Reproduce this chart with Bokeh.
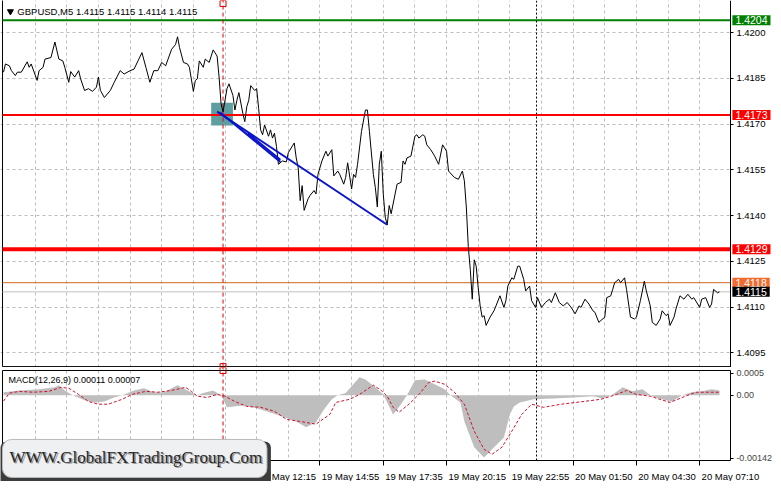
from bokeh.plotting import figure
from bokeh.models import Range1d, Label, FixedTicker, Grid, PrintfTickFormatter, LinearAxis
from bokeh.layouts import column
from bokeh.embed import file_html
from bokeh.resources import INLINE
from bokeh.core.properties import value

# ---------------- data ----------------
title_text = "GBPUSD,M5  1.4115 1.4115 1.4114 1.4115"
macd_text = "MACD(12,26,9) 0.00011 0.00007"

price_bar = [0, 1, 3, 4, 6, 7, 9, 12, 13, 14, 17, 18, 20, 21, 24, 26, 28, 30, 31, 33, 34, 36, 38, 39,
             41, 43, 45, 47, 48, 49, 51, 54, 56, 59, 61, 64, 66, 68, 70, 72, 74, 76, 78, 80, 82, 85,
             87, 88, 89, 91, 93, 94, 96, 97, 98, 99, 101, 102, 104, 106, 108, 109, 110, 111, 113, 114,
             116, 117, 118, 119, 121, 122, 123, 124, 125, 127, 128, 129, 130, 131, 132, 134, 135, 136,
             137, 138, 139, 141, 143, 144, 147, 148, 149, 150, 151, 152, 154, 155, 157, 158, 159, 161,
             163, 164, 166, 167, 169, 170, 172, 173, 174, 176, 177, 178, 179, 181, 183, 184, 185, 187,
             188, 189, 190, 191, 192, 193, 194, 195, 196, 198, 199, 201, 202, 203, 204, 206, 208, 209,
             210, 212, 213, 214, 216, 218, 220, 222, 224, 225, 228, 230, 232, 233, 234, 235, 236, 237,
             238, 239, 240, 241, 242, 243, 244, 246, 248, 249, 251, 253, 254, 255, 257, 258, 260, 261,
             263, 264, 266, 267, 268, 269, 270, 272, 274, 276, 277, 279, 281, 283, 285, 287, 289, 291,
             292, 294, 296, 298, 299, 301, 302, 304, 305, 307, 308, 309, 311, 312, 314, 315, 317, 319,
             320, 322, 324, 325, 327, 328, 330, 332, 333, 335, 336, 337, 339, 340, 342, 344, 346, 348,
             349, 352, 353, 355, 357, 358, 359, 361, 362]
price_val = [1.41870, 1.41897, 1.41891, 1.41875, 1.41859, 1.41870, 1.41870, 1.41904, 1.41886, 1.41897,
             1.41843, 1.41875, 1.41886, 1.41913, 1.41918, 1.41969, 1.41913, 1.41907, 1.41886, 1.41837,
             1.41872, 1.41854, 1.41875, 1.41848, 1.41810, 1.41816, 1.41807, 1.41821, 1.41854, 1.41810,
             1.41787, 1.41810, 1.41837, 1.41875, 1.41864, 1.41875, 1.41880, 1.41907, 1.41934, 1.41886,
             1.41837, 1.41875, 1.41875, 1.41902, 1.41891, 1.41945, 1.41961, 1.41986, 1.41951, 1.41902,
             1.41897, 1.41886, 1.41807, 1.41843, 1.41848, 1.41907, 1.41886, 1.41913, 1.41902, 1.41943,
             1.41923, 1.41854, 1.41767, 1.41740, 1.41816, 1.41832, 1.41794, 1.41746, 1.41778, 1.41803,
             1.41735, 1.41708, 1.41757, 1.41778, 1.41826, 1.41810, 1.41816, 1.41751, 1.41681, 1.41665,
             1.41697, 1.41660, 1.41681, 1.41654, 1.41670, 1.41627, 1.41568, 1.41579, 1.41576, 1.41606,
             1.41638, 1.41589, 1.41557, 1.41449, 1.41498, 1.41417, 1.41455, 1.41466, 1.41482, 1.41471,
             1.41535, 1.41579, 1.41611, 1.41595, 1.41616, 1.41530, 1.41546, 1.41535, 1.41503, 1.41525,
             1.41573, 1.41487, 1.41535, 1.41525, 1.41568, 1.41676, 1.41746, 1.41746, 1.41676, 1.41535,
             1.41492, 1.41428, 1.41568, 1.41611, 1.41471, 1.41395, 1.41369, 1.41433, 1.41406, 1.41471,
             1.41503, 1.41509, 1.41579, 1.41568, 1.41589, 1.41595, 1.41660, 1.41665, 1.41654, 1.41665,
             1.41660, 1.41632, 1.41616, 1.41595, 1.41568, 1.41632, 1.41611, 1.41546, 1.41525, 1.41519,
             1.41546, 1.41514, 1.41428, 1.41298, 1.41223, 1.41126, 1.41255, 1.41234, 1.41164, 1.41104,
             1.41067, 1.41072, 1.41040, 1.41067, 1.41088, 1.41104, 1.41137, 1.41099, 1.41121, 1.41169,
             1.41196, 1.41191, 1.41234, 1.41234, 1.41191, 1.41153, 1.41169, 1.41121, 1.41110, 1.41099,
             1.41131, 1.41099, 1.41115, 1.41126, 1.41115, 1.41147, 1.41115, 1.41104, 1.41115, 1.41099,
             1.41078, 1.41104, 1.41099, 1.41126, 1.41110, 1.41088, 1.41083, 1.41050, 1.41056, 1.41067,
             1.41131, 1.41137, 1.41158, 1.41180, 1.41191, 1.41180, 1.41196, 1.41158, 1.41067, 1.41061,
             1.41067, 1.41121, 1.41185, 1.41153, 1.41104, 1.41050, 1.41040, 1.41061, 1.41088, 1.41072,
             1.41078, 1.41040, 1.41067, 1.41094, 1.41137, 1.41126, 1.41142, 1.41126, 1.41131, 1.41099,
             1.41126, 1.41131, 1.41099, 1.41110, 1.41158, 1.41147, 1.41150]

macd_bar = [0, 8, 18, 26, 28, 31, 35, 41, 46, 51, 56, 60, 66, 71, 76, 81, 88, 93, 98, 101, 106, 110,
            113, 121, 128, 138, 148, 153, 158, 162, 166, 169, 173, 180, 183, 188, 192, 197, 201, 204,
            208, 213, 218, 223, 226, 231, 233, 238, 243, 248, 253, 256, 258, 261, 268, 278, 288, 298,
            303, 308, 313, 318, 323, 328, 333, 338, 343, 348, 353, 358, 362]
macd_val = [0.00007, 0.00011, 0.00014, 0.00018, 0.00023, 0.00011, 0.0, -0.00011, -0.00016, -0.00014,
            -0.00005, 0.0, 0.00011, 0.00016, 0.00007, 0.00007, 0.00023, 0.00011, 0.0, 0.00005, 0.00011,
            0.0, -0.00027, -0.00023, -0.00029, -0.00043, -0.00059, -0.00072, -0.00061, -0.00032,
            -0.00009, 0.0, 0.00005, 0.00041, 0.00036, 0.00018, 0.00002, -0.00043, -0.00020, 0.0,
            0.00034, 0.00036, 0.00025, 0.00014, 0.0, -0.00016, -0.00059, -0.00117, -0.00140, -0.00117,
            -0.00095, -0.00043, -0.00025, -0.00016, -0.00009, -0.00007, -0.00005, -0.00002, -0.00007,
            0.00002, 0.00018, 0.00009, 0.00014, -0.00002, -0.00009, -0.00014, 0.0, 0.00007, 0.00009,
            0.00014, 0.00011]

signal_bar = [0, 3, 8, 15, 23, 29, 33, 38, 43, 48, 53, 60, 65, 72, 78, 85, 92, 95, 98, 103, 108, 112,
              117, 123, 130, 137, 143, 150, 158, 165, 168, 175, 180, 187, 191, 194, 197, 200, 205, 210,
              215, 218, 223, 228, 233, 238, 243, 247, 252, 257, 262, 267, 273, 282, 293, 302, 310, 315,
              320, 327, 337, 343, 350, 357, 362]
signal_val = [-0.00013, 0.00005, 0.00009, 0.00007, 0.00009, 0.00018, 0.00016, 0.00002, -0.00014,
              -0.00020, -0.00020, -0.00009, 0.00002, 0.00009, 0.00007, 0.00011, 0.00018, 0.00009,
              -0.00002, -0.00005, 0.00002, -0.00002, -0.00014, -0.00025, -0.00027, -0.00036, -0.00054,
              -0.00059, -0.00065, -0.00043, -0.00016, -0.00009, 0.00002, 0.00023, 0.00011, -0.00002,
              -0.00027, -0.00038, -0.00020, 0.00002, 0.00029, 0.00032, 0.00025, 0.00007, -0.00020,
              -0.00081, -0.00122, -0.00133, -0.00117, -0.00081, -0.00043, -0.00020, -0.00027, -0.00020,
              -0.00014, -0.00009, 0.00002, 0.00011, 0.00002, -0.00002, -0.00016, -0.00005, 0.00007,
              0.00007, 0.00007]

level_values = [1.4204, 1.4173, 1.4129, 1.4118, 1.4115]
level_labels = ["1.4204", "1.4173", "1.4129", "1.4118", "1.4115"]

price_ticks = [1.4095, 1.4110, 1.4125, 1.4140, 1.4155, 1.4170, 1.4185, 1.4200]
macd_ticks = [0.0005, 0.0, -0.00142]
macd_tick_labels = ["0.0005", "0.00", "-0.00142"]

time_tick_bars = [128, 160, 192, 224, 256, 288, 320, 352]
time_tick_labels = ["19 May 12:15", "19 May 14:55", "19 May 17:35", "19 May 20:15",
                    "19 May 22:55", "20 May 01:50", "20 May 04:30", "20 May 07:10"]
grid_bars = list(range(16, 368, 16))

trend_start_bar = [108, 109.5, 123.5]
trend_start_price = [1.41741, 1.41738, 1.41670]
trend_end_bar = [194, 140, 140]
trend_end_price = [1.41370, 1.41576, 1.41583]

zone_bars = [105, 116]
zone_prices = [1.41695, 1.41770]

event_bar = 111
session_bar = 269.5
watermark_text = "WWW.GlobalFXTradingGroup.Com"

# ---------------- geometry / styles ----------------
FONT = "Liberation Sans"
GRID = "#BDBDBD"
X_LEFT, X_AXIS = -0.5, 367.5          # panel left edge / price-axis position (bar units)
P_TOP, P_BOTTOM = 1.42095, 1.40905    # main panel edges
M_TOP, M_BOTTOM = 0.00056, -0.00147   # MACD panel edges
level_line_colors = ["#008000", "#FF0000", "#FF0000", "#D2691E", "#C0C0C0"]
level_line_widths = [2, 2, 4, 1, 1]
level_box_colors = ["#008000", "#FF0000", "#FF0000", "#F26A2E", "#000000"]

xr = Range1d(-1.511, 389.3)

# ---------------- main price panel ----------------
p = figure(width=773, height=367, x_range=xr, y_range=Range1d(1.40902, 1.42105),
           output_backend="svg", toolbar_location=None, x_axis_location=None,
           y_axis_location=None, min_border=0)
p.background_fill_color = "white"
p.border_fill_color = "white"
p.outline_line_color = None
p.grid.visible = False

p.add_layout(Grid(dimension=0, ticker=FixedTicker(ticks=grid_bars), grid_line_color=GRID,
                  grid_line_dash="3 3"))
p.add_layout(Grid(dimension=1, ticker=FixedTicker(ticks=price_ticks), grid_line_color=GRID,
                  grid_line_dash="3 3"))
# blank strip right of the price axis (hides grid lines there)
p.quad(left=[X_AXIS], right=[400], bottom=[1.40], top=[1.43], fill_color="white", line_color=None)

ax = LinearAxis(fixed_location=X_AXIS, ticker=FixedTicker(ticks=price_ticks),
                formatter=PrintfTickFormatter(format="%.4f"))
ax.axis_line_color = "black"
ax.major_tick_line_color = "black"
ax.major_tick_out = 3
ax.major_tick_in = 0
ax.minor_tick_line_color = None
ax.major_label_standoff = 3
ax.major_label_text_font = FONT
ax.major_label_text_font_size = "9.5px"
ax.major_label_text_color = "black"
p.add_layout(ax, "right")

# panel borders
p.segment(x0=[X_LEFT, X_LEFT], y0=[P_BOTTOM, P_BOTTOM], x1=[X_LEFT, X_AXIS], y1=[1.43, P_BOTTOM],
          line_color="black", line_width=1)

# zone rectangle
p.quad(left=[zone_bars[0]], right=[zone_bars[1]], bottom=[zone_prices[0]], top=[zone_prices[1]],
       fill_color="#5F9EA0", line_color=None)

# horizontal levels
p.segment(x0=[X_LEFT] * len(level_values), y0=level_values, x1=[X_AXIS] * len(level_values),
          y1=level_values, line_color=level_line_colors, line_width=level_line_widths)

# vertical markers
p.segment(x0=[event_bar], y0=[P_BOTTOM], x1=[event_bar], y1=[1.43], line_color="#E00000",
          line_dash="4 3", line_width=1)
p.scatter([event_bar, event_bar], [P_TOP, P_BOTTOM], marker="square", size=6,
          fill_color=None, line_color="#E00000", line_width=1)
p.segment(x0=[session_bar], y0=[P_BOTTOM], x1=[session_bar], y1=[1.43], line_color="black",
          line_dash="2 2", line_width=1)

# price line
p.line(price_bar, price_val, line_color="black", line_width=1)

# trend lines
p.segment(x0=trend_start_bar, y0=trend_start_price, x1=trend_end_bar, y1=trend_end_price,
          line_color="#0A14C8", line_width=2)

# title
p.scatter([3.5], [1.42069], marker="inverted_triangle", size=6, fill_color="black", line_color="black")
p.add_layout(Label(x=7.0, y=1.42069, text=title_text, text_font=FONT, text_font_size="9.5px",
                   text_color="black", text_baseline="middle", text_align="left"))

# level boxes on price axis
for v, t, bc in zip(level_values, level_labels, level_box_colors):
    p.add_layout(Label(x=X_AXIS, y=v, x_offset=2, text=t, text_font=FONT, text_font_size="10.5px",
                       text_color="white", text_baseline="middle", text_align="left",
                       background_fill_color=bc, padding=dict(left=3, right=3, top=1, bottom=1)))

# ---------------- MACD panel ----------------
m = figure(width=773, height=114, x_range=xr, y_range=Range1d(-0.001944, 0.000628),
           output_backend="svg", toolbar_location=None, x_axis_location=None,
           y_axis_location=None, min_border=0)
m.background_fill_color = "white"
m.border_fill_color = "white"
m.outline_line_color = None
m.grid.visible = False
m.add_layout(Grid(dimension=0, ticker=FixedTicker(ticks=grid_bars), grid_line_color=GRID,
                  grid_line_dash="3 3"))
# blank areas outside the MACD panel (hide grid lines)
m.quad(left=[X_AXIS, -10], right=[400, 400], bottom=[-0.01, -0.01], top=[0.01, M_BOTTOM],
       fill_color="white", line_color=None)
m.quad(left=[-10], right=[400], bottom=[M_TOP], top=[0.01], fill_color="white", line_color=None)

may = LinearAxis(fixed_location=X_AXIS, ticker=FixedTicker(ticks=macd_ticks), bounds=(M_BOTTOM, M_TOP))
may.major_label_overrides = {v: s for v, s in zip(macd_ticks, macd_tick_labels)}
may.axis_line_color = "black"
may.major_tick_out = 3
may.major_tick_in = 0
may.minor_tick_line_color = None
may.major_label_standoff = 3
may.major_label_text_font = FONT
may.major_label_text_font_size = "9px"
m.add_layout(may, "right")

label_centers = [b + 15.5 for b in time_tick_bars]
max_ = LinearAxis(fixed_location=M_BOTTOM, bounds=(X_LEFT, X_AXIS),
                  ticker=FixedTicker(ticks=label_centers, minor_ticks=time_tick_bars))
max_.major_label_overrides = {c: s for c, s in zip(label_centers, time_tick_labels)}
max_.axis_line_color = "black"
max_.major_tick_line_color = None
max_.major_tick_out = 0
max_.major_tick_in = 0
max_.minor_tick_line_color = "black"
max_.minor_tick_out = 5
max_.minor_tick_in = 0
max_.major_label_standoff = 6
max_.major_label_text_font = FONT
max_.major_label_text_font_size = "9.5px"
max_.major_label_text_color = "black"
m.add_layout(max_, "below")

# panel borders
m.segment(x0=[X_LEFT, X_LEFT], y0=[M_BOTTOM, M_TOP], x1=[X_LEFT, X_AXIS], y1=[M_TOP, M_TOP],
          line_color="black", line_width=1)

m.varea(x=macd_bar, y1=[0.0] * len(macd_bar), y2=macd_val, fill_color="#BEBEBE")
m.line(signal_bar, signal_val, line_color="#D0102A", line_dash="3 2", line_width=1)

m.segment(x0=[event_bar], y0=[M_BOTTOM], x1=[event_bar], y1=[0.01], line_color="#E00000",
          line_dash="4 3", line_width=1)
m.scatter([event_bar], [M_TOP], marker="square", size=6, fill_color=None, line_color="#E00000",
          line_width=1)
m.segment(x0=[session_bar], y0=[M_BOTTOM], x1=[session_bar], y1=[M_TOP], line_color="black",
          line_dash="2 2", line_width=1)

m.add_layout(Label(x=2.5, y=0.000335, text=macd_text, text_font=FONT, text_font_size="9px",
                   text_color="black", text_baseline="middle", text_align="left"))

# watermark (drawn on top of everything)
m.quad(left=[-1.5], right=[135.2], bottom=[-0.0021], top=[-0.00104], fill_color="#3C3C3C",
       line_color=None, border_radius=6, level="overlay")
m.quad(left=[-0.5], right=[133.2], bottom=[-0.001853], top=[-0.000996], fill_color="#EEF0F2",
       line_color="#BBBBBB", line_width=1, border_radius=9, level="overlay")
m.text(x=[66.9], y=[-0.001402], text=[watermark_text], x_offset=1.5, y_offset=1.5,
       text_font=value("Liberation Serif"), text_font_size="17px", text_color="#9A9A9A",
       text_align="center", text_baseline="middle", level="overlay")
m.text(x=[66.9], y=[-0.001402], text=[watermark_text],
       text_font=value("Liberation Serif"), text_font_size="17px", text_color="#262626",
       text_align="center", text_baseline="middle", level="overlay")

layout = column(p, m, spacing=0)
open("out.html", "w").write(file_html(layout, INLINE))
